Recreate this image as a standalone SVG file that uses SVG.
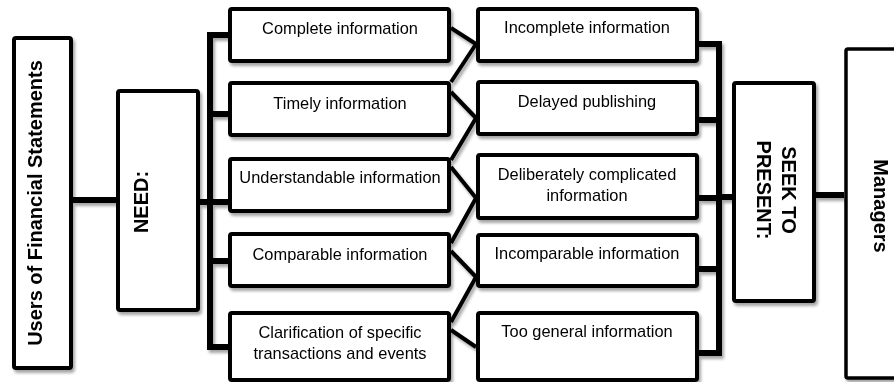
<svg xmlns="http://www.w3.org/2000/svg" width="894" height="382" viewBox="0 0 894 382">
  <defs>
    <filter id="shadow" x="-10%" y="-10%" width="130%" height="130%">
      <feDropShadow dx="2" dy="3" stdDeviation="1.6" flood-color="#000" flood-opacity="0.35"/>
    </filter>
    <style>
      .box { fill: #fff; stroke: #000; stroke-width: 4; }
      .wire { fill: none; stroke: #000; stroke-linejoin: miter; stroke-linecap: butt; }
      .bus { stroke-width: 6; }
      .cross { stroke-width: 4; }
      .label { font-family: "Liberation Sans", Arial, sans-serif; font-size: 16.4px; fill: #000; text-anchor: middle; }
      .title { font-family: "Liberation Sans", Arial, sans-serif; font-size: 20px; font-weight: bold; fill: #000; text-anchor: middle; }
    </style>
  </defs>
  <rect width="894" height="382" fill="#fff"/>

  <!-- connectors -->
  <g id="connectors" filter="url(#shadow)">
    <path class="wire bus" d="M73 200 H116"/>
    <path class="wire bus" d="M200 202 H210"/>
    <path class="wire bus" d="M228 35 H210 V347 H228 M210 114 H228 M210 202 H228 M210 261 H228"/>
    <path class="wire cross" d="M451 28 L476 44 M451 82 L476 44 M451 92 L476 118 M451 160 L476 118 M451 167 L476 198 M451 243 L476 198 M451 251 L476 277 M451 322 L476 277 M451 330 L476 347"/>
    <path class="wire bus" d="M699 44 H719 V353 H699 M699 120 H719 M699 198 H719 M699 269 H719"/>
    <path class="wire bus" d="M719 197 H732"/>
    <path class="wire bus" d="M816 195 H844"/>
  </g>

  <!-- side nodes -->
  <g id="users" filter="url(#shadow)">
    <rect class="box" x="14" y="38" width="57" height="330" rx="2"/>
    <text class="title" transform="translate(42,203) rotate(-90)">Users of Financial Statements</text>
  </g>
  <g id="need" filter="url(#shadow)">
    <rect class="box" x="118" y="91" width="80" height="219" rx="2"/>
    <text class="title" transform="translate(148,202) rotate(-90)">NEED:</text>
  </g>
  <g id="seek" filter="url(#shadow)">
    <rect class="box" x="734" y="83" width="80" height="218" rx="2"/>
    <text class="title" transform="translate(782,190) rotate(90)">SEEK TO</text>
    <text class="title" transform="translate(757,190) rotate(90)">PRESENT:</text>
  </g>
  <g id="managers" filter="url(#shadow)">
    <rect class="box" x="846" y="49" width="60" height="329" rx="2" style="stroke-width:3.5"/>
    <text class="title" transform="translate(874,206) rotate(90)">Managers</text>
  </g>

  <!-- needs column -->
  <g id="need-complete" filter="url(#shadow)">
    <rect class="box" x="230" y="9" width="219" height="52" rx="2"/>
    <text class="label" x="340" y="34">Complete information</text>
  </g>
  <g id="need-timely" filter="url(#shadow)">
    <rect class="box" x="230" y="83" width="219" height="52" rx="2"/>
    <text class="label" x="340" y="109">Timely information</text>
  </g>
  <g id="need-understandable" filter="url(#shadow)">
    <rect class="box" x="230" y="159" width="219" height="52" rx="2"/>
    <text class="label" x="340" y="183">Understandable information</text>
  </g>
  <g id="need-comparable" filter="url(#shadow)">
    <rect class="box" x="230" y="234" width="219" height="52" rx="2"/>
    <text class="label" x="340" y="260">Comparable information</text>
  </g>
  <g id="need-clarification" filter="url(#shadow)">
    <rect class="box" x="230" y="313" width="219" height="67" rx="2"/>
    <text class="label" x="340" y="338">Clarification of specific</text>
    <text class="label" x="340" y="359">transactions and events</text>
  </g>

  <!-- presented column -->
  <g id="seek-incomplete" filter="url(#shadow)">
    <rect class="box" x="478" y="9" width="219" height="52" rx="2"/>
    <text class="label" x="587" y="33">Incomplete information</text>
  </g>
  <g id="seek-delayed" filter="url(#shadow)">
    <rect class="box" x="478" y="82" width="219" height="52" rx="2"/>
    <text class="label" x="587" y="107">Delayed publishing</text>
  </g>
  <g id="seek-complicated" filter="url(#shadow)">
    <rect class="box" x="478" y="155" width="219" height="63" rx="2"/>
    <text class="label" x="587" y="180">Deliberately complicated</text>
    <text class="label" x="587" y="201">information</text>
  </g>
  <g id="seek-incomparable" filter="url(#shadow)">
    <rect class="box" x="478" y="235" width="219" height="51" rx="2"/>
    <text class="label" x="587" y="259">Incomparable information</text>
  </g>
  <g id="seek-general" filter="url(#shadow)">
    <rect class="box" x="478" y="313" width="219" height="67" rx="2"/>
    <text class="label" x="587" y="337">Too general information</text>
  </g>
</svg>
